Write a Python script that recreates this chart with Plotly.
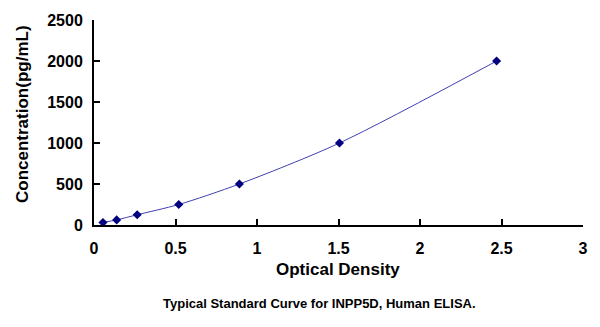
import plotly.graph_objects as go

od = [0.055, 0.139, 0.265, 0.52, 0.892, 1.506, 2.47]
conc = [31.25, 62.5, 125, 250, 500, 1000, 2000]
x_ticks = [0, 0.5, 1, 1.5, 2, 2.5, 3]
x_tick_labels = ["<b>0</b>", "<b>0.5</b>", "<b>1</b>", "<b>1.5</b>", "<b>2</b>", "<b>2.5</b>", "<b>3</b>"]
y_ticks = [0, 500, 1000, 1500, 2000, 2500]
y_tick_labels = ["<b>0</b>", "<b>500</b>", "<b>1000</b>", "<b>1500</b>", "<b>2000</b>", "<b>2500</b>"]

font_family = "Liberation Sans, Arial, sans-serif"

fig = go.Figure()
fig.add_trace(go.Scatter(
    x=od, y=conc, mode="lines+markers",
    line=dict(color="#4040b0", width=1, shape="spline", smoothing=0.8),
    marker=dict(symbol="diamond", size=7, color="#000080"),
    showlegend=False, cliponaxis=False,
))

axis_common = dict(
    showline=True, linecolor="black", linewidth=2, mirror=False,
    ticks="inside", ticklen=6, tickwidth=2, tickcolor="black",
    showgrid=False, zeroline=False,
    tickfont=dict(family=font_family, size=16, color="black"),
)

fig.update_xaxes(range=[0, 3], tickvals=x_ticks, ticktext=x_tick_labels,
                 ticklabelstandoff=8, **axis_common)
fig.update_yaxes(range=[0, 2500], tickvals=y_ticks, ticktext=y_tick_labels,
                 ticklabelstandoff=6, **axis_common)

fig.add_annotation(
    text="<b>Optical Density</b>", xref="paper", yref="paper",
    x=0.498, y=-0.219, xanchor="center", yanchor="middle", showarrow=False,
    font=dict(family=font_family, size=17, color="black"),
)
fig.add_annotation(
    text="<b>Concentration(pg/mL)</b>", xref="paper", yref="paper",
    x=-0.1466, y=0.543, xanchor="center", yanchor="middle", showarrow=False,
    textangle=-90, font=dict(family=font_family, size=17, color="black"),
)
fig.add_annotation(
    text="<b>Typical Standard Curve for INPP5D, Human ELISA.</b>",
    xref="paper", yref="paper", x=0.462, y=-0.381, xanchor="center", yanchor="middle",
    showarrow=False, font=dict(family=font_family, size=13, color="black"),
)

fig.update_layout(
    width=600, height=327,
    margin=dict(l=94, r=15, t=15, b=102),
    paper_bgcolor="white", plot_bgcolor="white",
)

fig.write_html("out.html")
